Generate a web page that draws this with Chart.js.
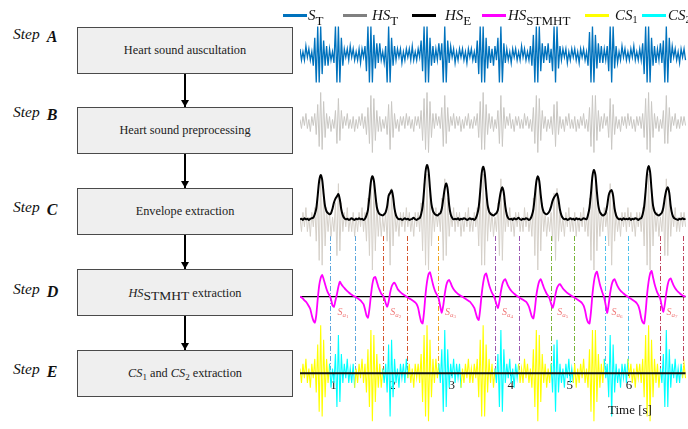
<!DOCTYPE html>
<html>
<head>
<meta charset="utf-8">
<title>Heart sound segmentation steps</title>
<script src="https://cdn.jsdelivr.net/npm/chart.js@4.4.1/dist/chart.umd.min.js"></script>
<style>
  html, body { margin: 0; padding: 0; background: #fff; }
  body { position: relative; width: 688px; height: 429px; overflow: hidden; font-family: 'Liberation Serif', 'Times New Roman', serif; color: #111; }
  .box { position: absolute; left: 77px; width: 214px; height: 45px; background: #efefef; border: 1px solid #4a4a4a; display: flex; align-items: center; justify-content: center; font-size: 12.3px; white-space: nowrap; color: #222; }
  .box sub { font-size: 9px; vertical-align: -3px; line-height: 0; }
  .box .big { font-size: 13.5px; position: relative; top: 3px; }
  .step { position: absolute; left: 13px; font-size: 15.5px; line-height: 16px; font-style: italic; white-space: nowrap; }
  .step b { position: relative; top: 3px; margin-left: 7px; font-size: 16px; }
  .arrow { position: absolute; left: 184.3px; width: 1.4px; background: #000; }
  .arrow::after { content: ''; position: absolute; left: -3.3px; bottom: 0; border-left: 4px solid transparent; border-right: 4px solid transparent; border-top: 7px solid #000; }
  #plot { position: absolute; left: 300px; top: 0; width: 388px; height: 429px; }
  .sw { position: absolute; top: 13.5px; width: 24px; height: 3px; }
  .lt { position: absolute; top: 7px; font-size: 15px; line-height: 16px; white-space: nowrap; }
  .lt sub { font-size: 13px; vertical-align: -5px; line-height: 0; }
  .lt sub.n { font-size: 10px; vertical-align: -3px; }
  #xlabel { position: absolute; left: 608px; top: 403px; font-size: 13px; line-height: 14px; }
</style>
</head>
<body>

<!-- flowchart -->
<div class="step" style="top:25.6px">Step<b>A</b></div>
<div class="box" style="top:27px">Heart sound auscultation</div>
<div class="arrow" style="top:74px;height:33px"></div>

<div class="step" style="top:103.6px">Step<b>B</b></div>
<div class="box" style="top:107px">Heart sound preprocessing</div>
<div class="arrow" style="top:154px;height:34px"></div>

<div class="step" style="top:198.6px">Step<b>C</b></div>
<div class="box" style="top:188px">Envelope extraction</div>
<div class="arrow" style="top:235px;height:34px"></div>

<div class="step" style="top:280.6px">Step<b>D</b></div>
<div class="box" style="top:269px"><span><i>HS</i><span class="big">STMHT</span> extraction</span></div>
<div class="arrow" style="top:316px;height:34px"></div>

<div class="step" style="top:361px">Step<b>E</b></div>
<div class="box" style="top:350px"><span><i>CS</i><sub>1</sub> and <i>CS</i><sub>2</sub> extraction</span></div>

<!-- signals -->
<div id="plot"><canvas id="signalChart" width="388" height="429"></canvas></div>

<!-- legend -->
<div class="sw" style="left:283px;background:#0072bd"></div><div class="lt" style="left:308px"><i>S</i><sub>T</sub></div>
<div class="sw" style="left:343px;background:#808080"></div><div class="lt" style="left:372px"><i>HS</i><sub>T</sub></div>
<div class="sw" style="left:412px;background:#000"></div><div class="lt" style="left:445px"><i>HS</i><sub>E</sub></div>
<div class="sw" style="left:482px;background:#ff00ff"></div><div class="lt" style="left:508px"><i>HS</i><sub>STMHT</sub></div>
<div class="sw" style="left:585px;background:#ffff00"></div><div class="lt" style="left:615px"><i>CS</i><sub class="n">1</sub></div>
<div class="sw" style="left:642px;background:#00ffff"></div><div class="lt" style="left:668px"><i>CS</i><sub class="n">2</sub></div>

<div id="xlabel">Time [s]</div>

<script>
// Traced signals, 40 samples per second, first sample at t0
const fs = 40;
const t0 = 0.433;
const xMin = 0.433, xMax = 7.0;
const xTicks = [1, 2, 3, 4, 5, 6];

// Step A: raw auscultation signal S_T
const sT = [
  2,-2,1,-2,3,-1,2,-2,1,-4,
  6,-10,10,-10,10,-7,5,-4,3,-4,
  2,-2,1,-3,10,-10,10,-10,6,-4,
  2,-1,2,-2,3,-1,2,-2,1,-2,
  2,-3,2,-1,3,-6,10,-10,10,-10,
  7,-5,4,-3,4,-2,1,-3,3,-10,
  10,-10,6,-4,3,-2,2,-1,2,-3,
  1,-2,2,-1,2,-2,3,-2,1,-2,
  2,-1,5,-6,10,-10,10,-10,6,-4,
  3,-3,2,-2,4,-2,4,-10,10,-10,
  5,-3,3,-1,2,-3,1,-2,2,-1,
  2,-2,1,-3,2,-1,2,-2,1,-3,
  5,-7,10,-10,10,-10,6,-5,3,-3,
  2,-4,3,-2,6,-10,10,-10,4,-3,
  2,-2,1,-3,2,-1,2,-2,1,-2,
  3,-1,2,-2,1,-2,3,-4,7,-10,
  10,-10,10,-6,4,-3,3,-2,4,-3,
  2,-6,10,-10,10,-5,3,-2,2,-1,
  2,-3,1,-2,2,-1,2,-2,1,-3,
  2,-1,2,-2,1,-4,8,-10,10,-10,
  7,-5,4,-3,3,-3,2,-2,3,-6,
  10,-10,10,-5,3,-3,1,-2,3,-1,
  2,-2,1,-2,2,-1,3,-2,1,-2,
  2,-2,4,-7,10,-10,10,-10,6,-4,
  3,-3,2,-2,4,-3,5,-10,10,-10,
  6,-3,3,-1,2,-2,1,-3,2,-1,
  2,-2
];

// Steps B, C, E: preprocessed heart sound HS_T
const hsT = [
  1,-2,2,-1,3,-2,1,-3,2,-1,
  3,-4,6,-8,10,-9,7,-5,3,-2,
  2,-3,1,-2,4,-7,8,-6,4,-2,
  2,-1,3,-2,1,-2,2,-3,1,-2,
  2,-1,3,-2,2,-4,5,-7,9,-10,
  8,-6,4,-3,2,-3,1,-2,2,-4,
  6,-9,7,-5,3,-2,1,-3,2,-1,
  2,-2,3,-1,2,-2,1,-3,2,-1,
  2,-2,4,-6,8,-9,10,-10,7,-5,
  3,-2,3,-1,2,-2,5,-8,9,-7,
  5,-3,2,-1,3,-2,2,-1,2,-3,
  1,-2,2,-1,3,-2,1,-2,2,-1,
  3,-5,7,-9,10,-9,6,-4,3,-2,
  2,-3,1,-2,4,-7,9,-8,5,-2,
  2,-1,3,-2,1,-3,2,-1,2,-2,
  1,-2,3,-1,2,-2,1,-3,5,-7,
  9,-10,8,-6,4,-2,2,-3,1,-2,
  2,-4,6,-8,7,-4,2,-2,1,-3,
  2,-1,3,-2,1,-2,2,-3,1,-2,
  2,-1,3,-2,1,-3,5,-8,9,-10,
  9,-6,4,-3,2,-2,3,-1,2,-5,
  8,-9,6,-4,2,-2,1,-3,2,-1,
  2,-2,3,-1,2,-2,1,-3,2,-1,
  2,-2,3,-5,8,-9,10,-10,7,-5,
  3,-2,2,-3,1,-2,4,-7,9,-7,
  5,-3,2,-1,3,-2,1,-2,2,-1,
  2,-1
];

// Step C: envelope HS_E
const hsE = [
  0.03,0.04,0.02,0.05,0.03,0.04,0.02,0.04,0.05,0.06,
  0.12,0.22,0.46,0.72,0.82,0.74,0.48,0.26,0.17,0.14,
  0.12,0.14,0.22,0.33,0.40,0.44,0.48,0.38,0.20,0.10,
  0.05,0.03,0.04,0.02,0.03,0.05,0.03,0.02,0.04,0.03,
  0.05,0.03,0.04,0.02,0.04,0.10,0.20,0.44,0.70,0.80,
  0.72,0.48,0.25,0.16,0.12,0.11,0.10,0.12,0.16,0.26,
  0.45,0.50,0.55,0.44,0.22,0.10,0.05,0.03,0.04,0.02,
  0.03,0.05,0.03,0.04,0.02,0.03,0.04,0.06,0.03,0.02,
  0.04,0.05,0.12,0.26,0.55,0.88,1.00,0.90,0.58,0.30,
  0.18,0.13,0.11,0.10,0.12,0.14,0.22,0.40,0.58,0.67,
  0.56,0.28,0.12,0.06,0.03,0.04,0.03,0.05,0.02,0.04,
  0.03,0.05,0.04,0.02,0.03,0.05,0.03,0.04,0.02,0.05,
  0.12,0.25,0.53,0.85,0.97,0.87,0.56,0.29,0.17,0.13,
  0.11,0.10,0.12,0.14,0.20,0.38,0.53,0.60,0.50,0.26,
  0.11,0.05,0.03,0.04,0.02,0.05,0.03,0.04,0.06,0.03,
  0.02,0.04,0.03,0.05,0.04,0.02,0.04,0.10,0.21,0.45,
  0.70,0.80,0.71,0.46,0.25,0.16,0.13,0.12,0.14,0.18,
  0.26,0.36,0.42,0.46,0.49,0.38,0.20,0.10,0.05,0.03,
  0.04,0.02,0.03,0.05,0.03,0.04,0.02,0.05,0.03,0.04,
  0.02,0.03,0.05,0.04,0.03,0.11,0.24,0.50,0.80,0.91,
  0.82,0.52,0.27,0.16,0.12,0.10,0.11,0.15,0.28,0.46,
  0.53,0.55,0.45,0.22,0.10,0.05,0.03,0.04,0.02,0.05,
  0.03,0.04,0.03,0.05,0.02,0.04,0.03,0.05,0.04,0.02,
  0.04,0.05,0.12,0.26,0.54,0.86,0.98,0.88,0.56,0.28,
  0.17,0.13,0.11,0.10,0.12,0.15,0.24,0.42,0.55,0.60,
  0.50,0.26,0.12,0.06,0.04,0.03,0.02,0.04,0.03,0.05,
  0.03,0.04
];

// Step D: HS_STMHT
const hsSTMHT = [
  0,-0.02,-0.08,-0.15,-0.2,-0.28,-0.38,-0.5,-0.75,-0.95,
  -1.04,-0.75,-0.1,0.45,0.75,0.87,0.7,0.5,0.3,0.15,
  0.05,-0.1,-0.35,-0.4,-0.15,0.1,0.4,0.6,0.5,0.42,
  0.35,0.28,0.22,0.17,0.12,0.08,0.04,0.01,-0.02,-0.06,
  -0.1,-0.15,-0.22,-0.3,-0.5,-0.75,-0.84,-0.5,0.05,0.5,
  0.75,0.79,0.6,0.4,0.25,0.12,0.05,-0.05,-0.25,-0.4,
  -0.2,0.15,0.4,0.52,0.56,0.45,0.32,0.24,0.18,0.13,
  0.09,0.05,0.01,-0.03,-0.07,-0.1,-0.14,-0.18,-0.23,-0.3,
  -0.45,-0.75,-1.0,-1.07,-0.6,0.1,0.6,0.9,0.98,0.75,
  0.5,0.3,0.15,0.05,-0.1,-0.4,-0.64,-0.35,0.1,0.45,
  0.62,0.67,0.55,0.4,0.3,0.22,0.16,0.11,0.07,0.03,
  0,-0.04,-0.08,-0.12,-0.16,-0.2,-0.27,-0.35,-0.45,-0.65,
  -0.85,-0.93,-0.5,0.1,0.55,0.85,0.93,0.72,0.48,0.3,
  0.15,0.05,-0.1,-0.3,-0.45,-0.2,0.2,0.5,0.65,0.7,
  0.56,0.42,0.32,0.24,0.17,0.12,0.07,0.03,-0.01,-0.05,
  -0.09,-0.12,-0.16,-0.2,-0.28,-0.4,-0.6,-0.8,-0.87,-0.5,
  0.05,0.4,0.62,0.7,0.55,0.38,0.24,0.12,0.04,-0.08,
  -0.28,-0.45,-0.25,0.1,0.35,0.46,0.5,0.42,0.33,0.26,
  0.2,0.15,0.11,0.07,0.03,0,-0.04,-0.08,-0.12,-0.16,
  -0.2,-0.26,-0.36,-0.55,-0.85,-1.02,-1.07,-0.6,0.1,0.6,
  0.9,1.0,0.76,0.5,0.3,0.12,-0.05,-0.35,-0.65,-0.3,
  0.15,0.48,0.65,0.7,0.56,0.42,0.32,0.24,0.18,0.13,
  0.08,0.04,0,-0.04,-0.08,-0.12,-0.16,-0.2,-0.26,-0.36,
  -0.55,-0.85,-1.02,-1.07,-0.6,0.1,0.6,0.92,1.03,0.78,
  0.52,0.32,0.15,0.04,-0.1,-0.4,-0.6,-0.3,0.15,0.5,
  0.68,0.73,0.58,0.44,0.34,0.26,0.19,0.14,0.09,0.05,
  0.02,0
];

// CS2 intervals [s] (cyan); the rest of the signal is CS1 (yellow)
const cs2Start = [0.941, 1.843, 2.773, 3.733, 4.675, 5.594, 6.525];
const cs2End   = [1.364, 2.249, 3.169, 4.144, 5.069, 5.988, 6.919];

// dash-dot boundary markers and their colours
const markerTimes  = [0.941, 1.364, 1.843, 2.249, 2.773, 3.733, 4.144, 4.675, 5.069, 5.594, 5.988, 6.525, 6.919];
const markerColors = ['#5aa5dc', '#5aa5dc', '#d2532b', '#d2532b', '#f0a31c', '#9a55b0', '#9a55b0',
                      '#78b437', '#78b437', '#4cc0ec', '#4cc0ec', '#bf3f5c', '#bf3f5c'];
const segLabels = ['1', '2', '3', '4', '5', '6', '7'];

// ---- helpers ----
const H = 429;
const toPoints = arr => arr.map((v, i) => ({x: t0 + i / fs, y: v}));
const tLast = t0 + (hsT.length - 1) / fs;
const zeroLine = [{x: t0, y: 0}, {x: tLast, y: 0}];

// every panel shares the full canvas height; place its zero at a pixel row
function band(zeroPx, pxPerUnit) {
    const max = zeroPx / pxPerUnit;
    return {type: 'linear', display: false, min: max - H / pxPerUnit, max: max};
}

function csColor(ctx) {
    const t = (ctx.p0.parsed.x + ctx.p1.parsed.x) / 2;
    for (let k = 0; k < cs2Start.length; k++) {
        if (t >= cs2Start[k] && t < cs2End[k]) return '#00ffff';
    }
    return '#ffff00';
}

// dash-dot lines between Step C and Step E
const markerPlugin = {
    id: 'markerPlugin',
    beforeDatasetsDraw(chart) {
        const ctx = chart.ctx;
        const x = chart.scales.x;
        ctx.save();
        ctx.lineWidth = 1;
        ctx.setLineDash([5, 2, 1, 2]);
        markerTimes.forEach((t, i) => {
            const px = Math.round(x.getPixelForValue(t)) + 0.5;
            ctx.strokeStyle = markerColors[i];
            ctx.beginPath();
            ctx.moveTo(px, 236);
            ctx.lineTo(px, 370);
            ctx.stroke();
        });
        ctx.restore();
    }
};

// S_a_i labels in the Step D panel
const segLabelPlugin = {
    id: 'segLabelPlugin',
    afterDatasetsDraw(chart) {
        const ctx = chart.ctx;
        const x = chart.scales.x;
        const y = chart.scales.yD.getPixelForValue(0) + 18;
        ctx.save();
        ctx.fillStyle = '#f07878';
        ctx.textBaseline = 'alphabetic';
        segLabels.forEach((lab, i) => {
            let px = x.getPixelForValue((cs2Start[i] + cs2End[i]) / 2) - 5;
            ctx.font = 'italic 10px "Liberation Serif"';
            ctx.fillText('S', px, y);
            px += ctx.measureText('S').width;
            ctx.font = 'italic 7px "Liberation Serif"';
            ctx.fillText('a', px, y + 2);
            px += ctx.measureText('a').width;
            ctx.font = '5px "Liberation Serif"';
            ctx.fillText(lab, px, y + 3.5);
        });
        ctx.restore();
    }
};

// datasets listed bottom to top
const layers = [
    {data: toPoints(sT), yAxisID: 'yA', borderColor: '#0072bd', borderWidth: 1.3},
    {data: toPoints(hsT), yAxisID: 'yB', borderColor: '#c9c7c3', borderWidth: 1},
    {data: toPoints(hsT), yAxisID: 'yC', borderColor: '#d5d0c9', borderWidth: 1},
    {data: toPoints(hsE), yAxisID: 'yEnv', borderColor: '#000000', borderWidth: 2, tension: 0.3},
    {data: zeroLine, yAxisID: 'yD', borderColor: '#000000', borderWidth: 1.3},
    {data: toPoints(hsSTMHT), yAxisID: 'yD', borderColor: '#ff00ff', borderWidth: 1.8, tension: 0.2},
    {data: toPoints(hsT), yAxisID: 'yE', borderColor: '#ffff00', borderWidth: 1.1, segment: {borderColor: csColor}},
    {data: zeroLine, yAxisID: 'yE', borderColor: '#111111', borderWidth: 2}
];
layers.forEach((d, i) => {
    d.order = layers.length - i;
    d.pointRadius = 0;
    d.fill = false;
});

var signalCtx = document.getElementById('signalChart').getContext('2d');
var signalChart = new Chart(signalCtx, {
    type: 'line',
    data: {datasets: layers},
    options: {
        responsive: false,
        animation: false,
        events: [],
        layout: {padding: 0},
        plugins: {
            legend: {display: false},
            tooltip: {enabled: false}
        },
        scales: {
            x: {
                type: 'linear',
                min: xMin,
                max: xMax,
                position: {yE: 0},
                afterBuildTicks: (scale) => {
                    scale.ticks = xTicks.map(v => ({value: v}));
                },
                grid: {drawOnChartArea: false, drawTicks: true, tickLength: 3, color: '#333'},
                border: {display: false},
                ticks: {
                    color: '#222',
                    padding: 1,
                    maxRotation: 0,
                    autoSkip: false,
                    font: {family: "'Liberation Serif', serif", size: 13}
                }
            },
            yA: band(54.5, 2.8),
            yB: band(122.5, 3.0),
            yC: band(222, 4.8),
            yEnv: band(221, 56),
            yD: band(296.7, 25),
            yE: band(373.3, 4.8)
        }
    },
    plugins: [markerPlugin, segLabelPlugin]
});
</script>
</body>
</html>
